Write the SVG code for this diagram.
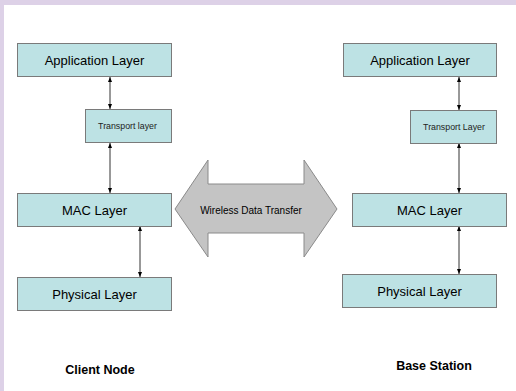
<svg xmlns="http://www.w3.org/2000/svg" width="516" height="391" viewBox="0 0 516 391">
<defs>
<style>
.box{fill:#bde2e4;stroke:#7a7a7a;stroke-width:1}
.t{font-family:"Liberation Sans",Arial,sans-serif;fill:#000;text-anchor:middle;dominant-baseline:central}
.big{font-size:13px}
.small{font-size:8.8px;fill:#222}
.lbl{font-size:12.5px;font-weight:bold}
.con{stroke:#333;stroke-width:1;fill:none;marker-start:url(#ah);marker-end:url(#ah)}
</style>
<marker id="ah" viewBox="0 0 10 10" refX="10" refY="5" markerWidth="5" markerHeight="5" orient="auto-start-reverse" markerUnits="userSpaceOnUse">
<path d="M0,1 L10,5 L0,9 z" fill="#000"/>
</marker>
</defs>
<rect x="0" y="0" width="516" height="391" fill="#ffffff"/>
<rect x="0" y="0" width="516" height="5" fill="#ddd1e7"/>
<rect x="0" y="0" width="4" height="391" fill="#ddd1e7"/>
<g id="connectors">
<line class="con" x1="110" y1="77" x2="110" y2="109"/>
<line class="con" x1="110" y1="143" x2="110" y2="193"/>
<line class="con" x1="140" y1="226" x2="140" y2="277"/>
<line class="con" x1="459" y1="77" x2="459" y2="110"/>
<line class="con" x1="459" y1="143" x2="459" y2="193"/>
<line class="con" x1="459" y1="226" x2="459" y2="274"/>
</g>
<g id="c-app"><rect class="box" x="17.5" y="43.5" width="154" height="33"/><text class="t big" x="94.5" y="60">Application Layer</text></g>
<g id="c-trans"><rect class="box" x="85.5" y="109.5" width="86" height="33"/><text class="t small" x="127.5" y="126">Transport layer</text></g>
<g id="c-mac"><rect class="box" x="17.5" y="193.5" width="154" height="33"/><text class="t big" x="94.5" y="210">MAC Layer</text></g>
<g id="c-phy"><rect class="box" x="17.5" y="277.5" width="154" height="33"/><text class="t big" x="94.5" y="294">Physical Layer</text></g>
<g id="b-app"><rect class="box" x="343.5" y="43.5" width="153" height="33"/><text class="t big" x="420" y="60">Application Layer</text></g>
<g id="b-trans"><rect class="box" x="410.5" y="110.5" width="86" height="33"/><text class="t small" x="454" y="127">Transport Layer</text></g>
<g id="b-mac"><rect class="box" x="352.5" y="193.5" width="154" height="33"/><text class="t big" x="429.5" y="210">MAC Layer</text></g>
<g id="b-phy"><rect class="box" x="342.5" y="274.5" width="154" height="33"/><text class="t big" x="419.5" y="291">Physical Layer</text></g>
<g id="transfer">
<path d="M175,209 L208,160 L208,184 L304,184 L304,160 L337,209 L304,257 L304,233 L208,233 L208,257 Z" fill="#c4c4c4" stroke="#8a8a8a" stroke-width="1"/>
<text class="t" x="251" y="210" font-size="10px">Wireless Data Transfer</text>
</g>
<g id="client-label"><text class="t lbl" x="100" y="370">Client Node</text></g>
<g id="base-label"><text class="t lbl" x="434" y="366">Base Station</text></g>
</svg>
